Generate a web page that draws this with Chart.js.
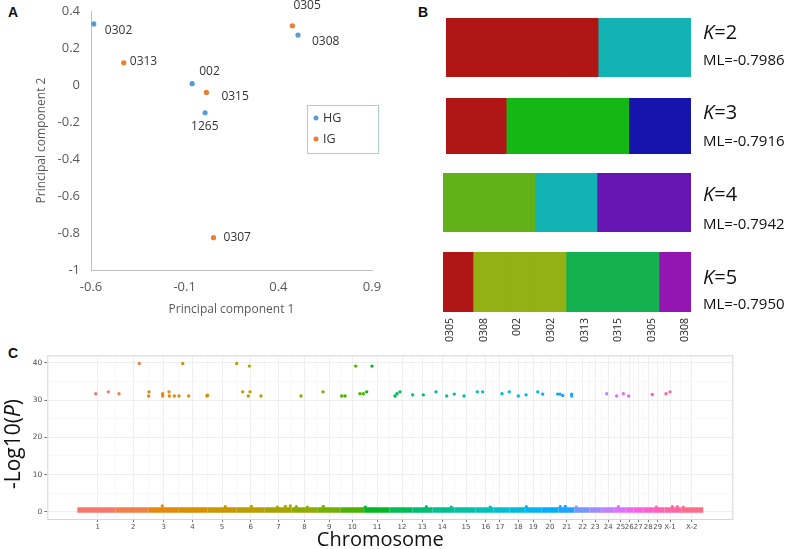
<!DOCTYPE html>
<html>
<head>
<meta charset="utf-8">
<script src="https://cdn.jsdelivr.net/npm/chart.js@4.4.1/dist/chart.umd.min.js"></script>
<style>
  html, body { margin: 0; padding: 0; background: #fff; }
  #wrap { position: relative; width: 787px; height: 549px; overflow: hidden; font-family: 'Open Sans', sans-serif; color: #111; }
  canvas { position: absolute; }
  .tag { position: absolute; font: bold 14px 'Liberation Sans', Arial, sans-serif; line-height: 1; color: #111; }
  .klab { position: absolute; left: 703px; font-size: 20px; line-height: 1; white-space: nowrap; }
  .ml { position: absolute; left: 703px; font-size: 15px; line-height: 1; white-space: nowrap; }
</style>
</head>
<body>
<div id="wrap">
  <div class="tag" style="left:8px;top:5px">A</div>
  <div class="tag" style="left:418px;top:5px">B</div>
  <div class="tag" style="left:8px;top:346px">C</div>

  <canvas id="pca" width="395" height="325" style="left:0;top:0"></canvas>
  <canvas id="k2" style="left:395px"></canvas>
  <canvas id="k3" style="left:395px"></canvas>
  <canvas id="k4" style="left:395px"></canvas>
  <canvas id="k5" style="left:395px"></canvas>
  <canvas id="manhattan" width="787" height="204" style="left:0;top:345px"></canvas>
</div>

<script>
// ── A: PCA ────────────────────────────────────────────────────────
const pcaLabels = ['0302', '0313', '002', '0315', '1265', '0307', '0305', '0308'];
const pc1 = [-0.585, -0.425, -0.06, 0.016, 0.009, 0.054, 0.475, 0.505];
const pc2 = [0.33, 0.12, 0.007, -0.04, -0.15, -0.825, 0.32, 0.27];
const pcaGroup = ['HG', 'IG', 'HG', 'IG', 'HG', 'IG', 'IG', 'HG'];
const groupNames = ['HG', 'IG'];

// ── B: structure ─────────────────────────────────────────────────
const individuals = ['0305', '0308', '002', '0302', '0313', '0315', '0305', '0308'];
const clusterK2 = [0, 0, 0, 0, 0, 1, 1, 1];
const clusterK3 = [0, 0, 1, 1, 1, 1, 2, 2];
const clusterK4 = [0, 0, 0, 1, 1, 2, 2, 2];
const clusterK5 = [0, 1, 1, 1, 2, 2, 2, 3];
const kValues = [2, 3, 4, 5];
const mlValues = ['-0.7986', '-0.7916', '-0.7942', '-0.7950'];

// ── C: Manhattan ─────────────────────────────────────────────────
const chromLabels = ['1','2','3','4','5','6','7','8','9','10','11','12','13','14','15','16',
  '17','18','19','20','21','22','23','24','25','26','27','28','29','X-1','X-2'];
const chromCenters = [50.5, 86, 116.5, 145.2, 174.7, 203.5, 231.2, 257.2, 282, 304.9, 330,
  354.7, 375, 395, 418.7, 438.4, 452.7, 471, 486, 502.7, 519.4, 535.4, 548, 561, 573.4,
  582, 591, 601, 610.4, 622.7, 644.4];
const chromBounds = [30, 68, 101, 131, 160, 189, 217, 244, 270, 293, 317, 342, 365, 385, 407,
  428, 446, 462, 478, 494, 511, 527, 542, 554, 567, 578, 586, 596, 606, 617, 634, 656];
const sigX = [92, 135.4, 189.4, 202, 308.4, 324.7,
  48.4, 61, 71.7, 101.7, 101.4, 115.4, 115.4, 121.7, 122, 127, 131.7, 141.4, 159.7, 160.2,
  195.4, 201, 202.7, 213.7, 253.7, 275.7, 294.4, 297.7, 312.7, 316, 319.4, 347.7, 349.7,
  352.7, 365.4, 376, 388.7, 399.4, 407, 416.7, 430, 435.4, 454.7, 462, 471, 478.7, 490.4,
  495.4, 510.4, 512.7, 515.4, 524.4, 524.4, 559.4, 569.4, 576, 581.4, 605, 618.7, 622.7];
const sigY = [39.8, 39.8, 39.8, 39.1, 39.1, 39.1,
  31.7, 32.2, 31.7, 32.2, 31.1, 31.7, 31.1, 32.2, 31.1, 31.1, 31.1, 31.1, 31.1, 31.3,
  32.2, 31.1, 32.2, 31.1, 31.1, 32.2, 31.1, 31.1, 31.7, 31.7, 32.2, 31.1, 31.7,
  32.2, 31.4, 31.4, 32.2, 31.1, 31.6, 31.1, 32.2, 32.2, 31.7, 32.2, 31.1, 31.4, 32.2,
  31.6, 31.6, 31.6, 31.2, 31.6, 31.1, 31.7, 31.1, 31.7, 31.1, 31.5, 31.7, 32.2];
const baseX = [115, 178, 204, 230, 238, 243, 249, 260, 276, 318, 379, 404, 443, 479, 513,
  518, 529, 571, 609, 625, 630, 636];
const baseY = [1.6, 1.4, 1.5, 1.3, 1.5, 1.6, 1.4, 1.3, 1.5, 1.3, 1.4, 1.3, 1.3, 1.4, 1.4,
  1.5, 1.3, 1.4, 1.3, 1.4, 1.4, 1.3];
const baseLevel = 0.5;

Chart.defaults.font.family = "'Open Sans', sans-serif";
Chart.defaults.animation = false;

// ── helpers ──────────────────────────────────────────────────────
// ggplot-like hue palette (HCL, c=100, l=65)
function hclHex(h, c, l) {
    const hr = h * Math.PI / 180;
    const U = c * Math.cos(hr), V = c * Math.sin(hr);
    const Y = Math.pow((l + 16) / 116, 3);
    const u = U / (13 * l) + 0.1978398, v = V / (13 * l) + 0.4683363;
    const X = Y * 9 * u / (4 * v);
    const Z = Y * (12 - 3 * u - 20 * v) / (4 * v);
    const lin = [
        3.2404542 * X - 1.5371385 * Y - 0.4985314 * Z,
        -0.9692660 * X + 1.8760108 * Y + 0.0415560 * Z,
        0.0556434 * X - 0.2040259 * Y + 1.0572252 * Z,
    ];
    return '#' + lin.map(ch => {
        let s = ch <= 0.0031308 ? 12.92 * ch : 1.055 * Math.pow(ch, 1 / 2.4) - 0.055;
        s = Math.max(0, Math.min(1, s));
        return Math.round(s * 255).toString(16).padStart(2, '0');
    }).join('');
}
const chromColors = chromLabels.map((_, i) => hclHex(15 + i * 360 / chromLabels.length, 100, 65));

function colorAt(x) {
    for (let i = 0; i < chromColors.length; i++) {
        if (x < chromBounds[i + 1]) return chromColors[i];
    }
    return chromColors[chromColors.length - 1];
}

const fmtTick = v => {
    const r = Math.round(v * 10) / 10;
    return String(r === 0 ? 0 : r);
};

// ── A ────────────────────────────────────────────────────────────
const GROUP_COLORS = { HG: '#5b9bd5', IG: '#ed7d31' };
// text offset of each point label (dx to text start, dy to text middle)
const LABEL_OFFSETS = [[11, 7], [6, -1], [7, -12], [15, 4], [-14, 14], [10, 0], [1, -20], [14, 7]];

const pcaLabelPlugin = {
    id: 'pcaLabels',
    afterDatasetsDraw(chart) {
        const ctx = chart.ctx;
        ctx.save();
        ctx.font = "12px 'Open Sans'";
        ctx.fillStyle = '#333';
        ctx.textBaseline = 'middle';
        chart.data.datasets.forEach((ds, di) => {
            chart.getDatasetMeta(di).data.forEach((el, j) => {
                const idx = ds.data[j].idx;
                const off = LABEL_OFFSETS[idx];
                ctx.fillText(pcaLabels[idx], el.x + off[0], el.y + off[1]);
            });
        });
        // legend box
        const a = chart.chartArea;
        const bx = a.right - 65, by = a.top + 94;
        ctx.strokeStyle = '#a9cfcf';
        ctx.lineWidth = 1;
        ctx.strokeRect(bx + 0.5, by + 0.5, 71, 48);
        ctx.font = "12.5px 'Open Sans'";
        groupNames.forEach((g, k) => {
            const y = by + 13 + k * 21;
            ctx.fillStyle = GROUP_COLORS[g];
            ctx.beginPath();
            ctx.arc(bx + 9, y, 2.5, 0, Math.PI * 2);
            ctx.fill();
            ctx.fillStyle = '#333';
            ctx.fillText(g, bx + 16, y);
        });
        ctx.restore();
    },
};

new Chart(document.getElementById('pca'), {
    type: 'scatter',
    data: {
        datasets: groupNames.map(g => ({
            label: g,
            data: pcaLabels.map((_, i) => ({ x: pc1[i], y: pc2[i], idx: i })).filter(p => pcaGroup[p.idx] === g),
            backgroundColor: GROUP_COLORS[g],
            borderWidth: 0,
            pointRadius: 2.6,
        })),
    },
    options: {
        responsive: false,
        layout: { padding: { left: 30.5, top: 11, right: 23, bottom: 3.8 } },
        plugins: { legend: { display: false }, tooltip: { enabled: false } },
        scales: {
            x: {
                type: 'linear', min: -0.6, max: 0.9,
                ticks: { stepSize: 0.5, color: '#595959', font: { size: 13 }, padding: 0, callback: fmtTick },
                grid: { display: false, drawTicks: true, tickLength: 9 },
                border: { color: '#bfbfbf' },
                title: { display: true, text: 'Principal component 1', color: '#595959', font: { size: 12 } },
                afterFit: s => { s.height = 51.2; },
            },
            y: {
                min: -1, max: 0.4,
                ticks: { stepSize: 0.2, color: '#595959', font: { size: 13 }, padding: 0, callback: fmtTick },
                grid: { display: false, drawTicks: true, tickLength: 11 },
                border: { color: '#bfbfbf' },
                title: { display: true, text: 'Principal component 2', color: '#595959', font: { size: 12 } },
                afterFit: s => { s.width = 60.5; },
            },
        },
    },
    plugins: [pcaLabelPlugin],
});

// ── B ────────────────────────────────────────────────────────────
const K_ROWS = [
    { id: 'k2', clusters: clusterK2, palette: ['#b01616', '#14b3b3'], top: 18, bottom: 77, left: 446 },
    { id: 'k3', clusters: clusterK3, palette: ['#b01616', '#14b814', '#1515ad'], top: 98, bottom: 154, left: 446 },
    { id: 'k4', clusters: clusterK4, palette: ['#63b118', '#14b3b3', '#6415b2'], top: 173, bottom: 232, left: 443 },
    { id: 'k5', clusters: clusterK5, palette: ['#b01616', '#93b015', '#15b050', '#9416b2'], top: 252, bottom: 312, left: 443 },
];
const K_TEXT_TOP = [21.9, 102.4, 183.9, 267.2];
const ML_TEXT_TOP = [51.7, 133.3, 216, 296];
const BAR_RIGHT = 691;

K_ROWS.forEach((row, r) => {
    const last = r === K_ROWS.length - 1;
    const canvas = document.getElementById(row.id);
    const h = row.bottom - row.top;
    canvas.width = 392;
    canvas.height = last ? h + 2 + 38 : h + 4;
    canvas.style.top = (row.top - 2) + 'px';

    const scales = {
        x: { type: 'category', display: false },
        y: { min: 0, max: 1, display: false },
    };
    if (last) {
        scales.x2 = {
            type: 'linear', position: 'bottom', min: -0.22, max: 7.17, offset: false,
            afterBuildTicks: axis => { axis.ticks = individuals.map((_, i) => ({ value: i })); },
            ticks: {
                autoSkip: false, minRotation: 90, maxRotation: 90, padding: 6,
                color: '#222', font: { size: 10.5 },
                callback: v => individuals[v],
            },
            grid: { display: false, drawTicks: false },
            border: { display: false },
            afterFit: s => { s.height = 38; },
        };
    }

    new Chart(canvas, {
        type: 'bar',
        data: {
            labels: individuals,
            datasets: [{
                data: individuals.map(() => 1),
                backgroundColor: row.clusters.map(c => row.palette[c]),
                borderWidth: 0,
                inflateAmount: 0.7,
                barPercentage: 1,
                categoryPercentage: 1,
            }],
        },
        options: {
            responsive: false,
            layout: { padding: { left: row.left - 395, right: 787 - BAR_RIGHT, top: 2, bottom: last ? 0 : 2 } },
            plugins: { legend: { display: false }, tooltip: { enabled: false } },
            scales,
        },
    });

    const wrap = document.getElementById('wrap');
    const k = document.createElement('div');
    k.className = 'klab';
    k.style.top = K_TEXT_TOP[r] + 'px';
    k.innerHTML = '<i>K</i>=' + kValues[r];
    wrap.appendChild(k);
    const ml = document.createElement('div');
    ml.className = 'ml';
    ml.style.top = ML_TEXT_TOP[r] + 'px';
    ml.textContent = 'ML=' + mlValues[r];
    wrap.appendChild(ml);
});

// ── C ────────────────────────────────────────────────────────────
const xTicks = [];
chromCenters.forEach((c, i) => {
    xTicks.push({ value: c, lbl: chromLabels[i] });
    if (i < chromCenters.length - 1) xTicks.push({ value: (c + chromCenters[i + 1]) / 2, lbl: '' });
});
const yTicks = [];
for (let v = 0; v <= 40; v += 5) yTicks.push({ value: v, lbl: v % 10 === 0 ? String(v) : '' });

const majorGrid = ctx => (ctx.tick && ctx.tick.lbl ? '#ebebeb' : '#f6f6f6');
const tickMark = ctx => (ctx.tick && ctx.tick.lbl ? '#555' : 'rgba(0,0,0,0)');

const manhattanDecor = {
    id: 'manhattanDecor',
    beforeDatasetsDraw(chart) {
        const a = chart.chartArea, ctx = chart.ctx;
        ctx.save();
        ctx.strokeStyle = '#d6d6d6';
        ctx.lineWidth = 1;
        ctx.strokeRect(a.left + 0.5, a.top + 0.5, a.right - a.left - 1, a.bottom - a.top);
        ctx.restore();
    },
    afterDraw(chart) {
        const a = chart.chartArea, ctx = chart.ctx;
        ctx.save();
        ctx.fillStyle = '#111';
        ctx.font = "20px 'Open Sans'";
        ctx.textAlign = 'center';
        ctx.textBaseline = 'alphabetic';
        ctx.fillText('Chromosome', a.left + 333, 201);

        ctx.translate(14, 99);
        ctx.rotate(-Math.PI / 2);
        ctx.textBaseline = 'middle';
        ctx.textAlign = 'left';
        const parts = [['-Log10(', "21px 'Open Sans'"], ['P', "italic 21px 'Open Sans'"], [')', "21px 'Open Sans'"]];
        let total = 0;
        parts.forEach(p => { ctx.font = p[1]; total += ctx.measureText(p[0]).width; });
        let x = -total / 2;
        parts.forEach(p => { ctx.font = p[1]; ctx.fillText(p[0], x, 0); x += ctx.measureText(p[0]).width; });
        ctx.restore();
    },
};

new Chart(document.getElementById('manhattan'), {
    type: 'scatter',
    data: {
        datasets: [
            {
                type: 'line',
                data: chromBounds.map(x => ({ x, y: baseLevel })),
                borderWidth: 5.5,
                pointRadius: 0,
                borderCapStyle: 'butt',
                segment: { borderColor: c => chromColors[c.p0DataIndex] },
                order: 3,
            },
            {
                data: baseX.map((x, i) => ({ x, y: baseY[i] })),
                backgroundColor: c => (c.raw ? colorAt(c.raw.x) : '#999'),
                borderWidth: 0,
                pointRadius: 1.6,
                order: 2,
            },
            {
                data: sigX.map((x, i) => ({ x, y: sigY[i] })),
                backgroundColor: c => (c.raw ? colorAt(c.raw.x) : '#999'),
                borderWidth: 0,
                pointRadius: 1.7,
                order: 1,
            },
        ],
    },
    options: {
        responsive: false,
        layout: { padding: { left: 0, top: 10.3, right: 53.7, bottom: 0 } },
        plugins: { legend: { display: false }, tooltip: { enabled: false } },
        scales: {
            x: {
                type: 'linear', min: 0, max: 686,
                afterBuildTicks: axis => { axis.ticks = xTicks.map(t => ({ ...t })); },
                ticks: {
                    autoSkip: false, maxRotation: 0, minRotation: 0, padding: 1,
                    color: '#4d4d4d', font: { size: 7, family: "'DejaVu Sans'" },
                    callback: (v, i, t) => t[i].lbl,
                },
                grid: { color: majorGrid, tickColor: tickMark, tickLength: 3, lineWidth: 0.8 },
                border: { display: false },
                afterFit: s => { s.height = 30; },
            },
            y: {
                min: -1.9, max: 42,
                afterBuildTicks: axis => { axis.ticks = yTicks.map(t => ({ ...t })); },
                ticks: {
                    padding: 2, color: '#4d4d4d', font: { size: 7.5, family: "'DejaVu Sans'" },
                    callback: (v, i, t) => t[i].lbl,
                },
                grid: { color: majorGrid, tickColor: tickMark, tickLength: 3, lineWidth: 0.8 },
                border: { display: false },
                afterFit: s => { s.width = 47.3; },
            },
        },
    },
    plugins: [manhattanDecor],
});
</script>
</body>
</html>
